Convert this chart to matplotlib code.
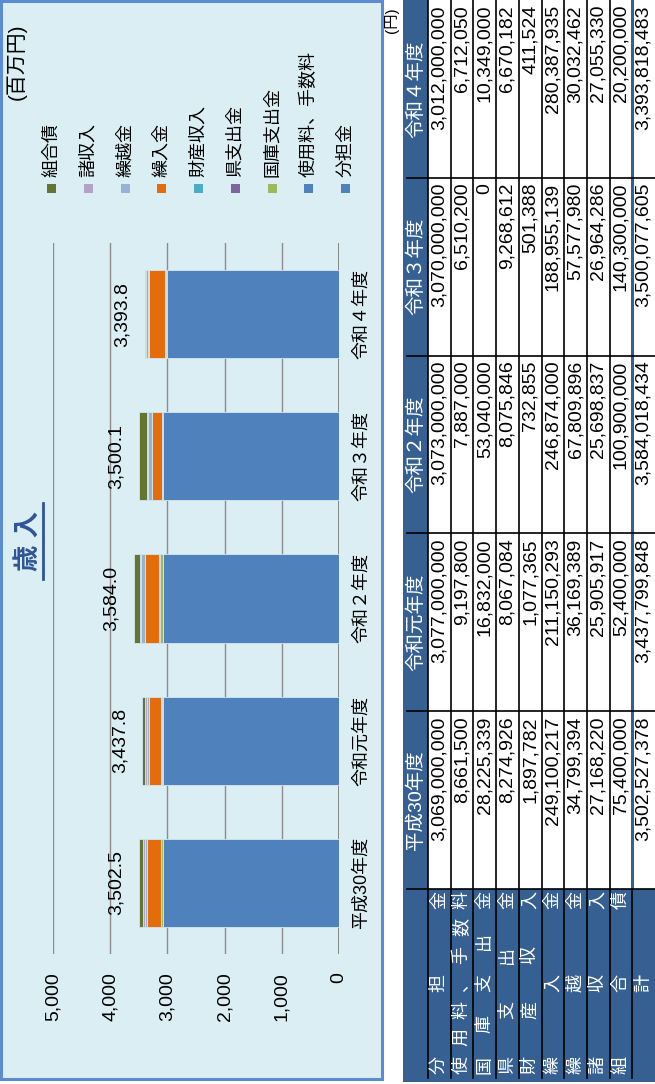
import numpy as np
import matplotlib
matplotlib.use('Agg')
import matplotlib.pyplot as plt
from matplotlib.patches import Rectangle

plt.rcParams['font.family'] = ['Liberation Sans', 'Noto Sans CJK JP']

# データ（円）
years = ['平成30年度', '令和元年度', '令和２年度', '令和３年度', '令和４年度']
items = ['分担金', '使用料、手数料', '国庫支出金', '県支出金', '財産収入',
         '繰入金', '繰越金', '諸収入', '組合債']
colors = ['#4F81BD', '#4F81BD', '#9BBB59', '#8064A2', '#4BACC6',
          '#E46C0A', '#95B3D7', '#B3A2C7', '#647531']

futankin = [3069000000, 3077000000, 3073000000, 3070000000, 3012000000]
shiyoryo = [8661500, 9197800, 7887000, 6510200, 6712050]
kokko = [28225339, 16832000, 53040000, 0, 10349000]
ken = [8274926, 8067084, 8075846, 9268612, 6670182]
zaisan = [1897782, 1077365, 732855, 501388, 411524]
kurire = [249100217, 211150293, 246874000, 188955139, 280387935]
kurikoshi = [34799394, 36169389, 67809896, 57577980, 30032462]
shoshunyu = [27168220, 25905917, 25698837, 26964286, 27055330]
kumiaisai = [75400000, 52400000, 100900000, 140300000, 20200000]

series = [futankin, shiyoryo, kokko, ken, zaisan, kurire, kurikoshi, shoshunyu, kumiaisai]
totals = np.sum(np.array(series), axis=0)

W, H = 655, 1084
fig = plt.figure(figsize=(W / 100, H / 100), dpi=100)

# 背景用（ピクセル座標）
bg = fig.add_axes([0, 0, 1, 1])
bg.set_xlim(0, W)
bg.set_ylim(H, 0)
bg.axis('off')

# グラフ枠
bg.add_patch(Rectangle((1, 1), 381, 1078, facecolor='#DBEEF4', edgecolor='#5B8BD0', lw=2.2))

# グラフ本体
ax = fig.add_axes([53 / W, 1 - 954 / H, 286 / W, 711 / H])
ax.patch.set_alpha(0)
y = np.arange(len(years))
left = np.zeros(len(years))
for vals, c in zip(series, colors):
    v = np.array(vals) / 1e6
    ax.barh(y, v, left=left, height=0.62, color=c, edgecolor='#D5E6EF', linewidth=0.6, zorder=3)
    left += v

ax.set_xlim(5000, 0)
ax.set_ylim(-0.5, 4.5)
ax.set_xticks(range(0, 5001, 1000), labels=[f'{t:,}' for t in range(0, 5001, 1000)])
ax.grid(axis='x', color='#8C8C8C', lw=1)
ax.set_axisbelow(True)
ax.axvline(0, color='#7F7F7F', lw=2, zorder=2)
for s in ax.spines.values():
    s.set_visible(False)
ax.tick_params(axis='x', length=0, pad=13, labelsize=14, labelrotation=90)
ax.yaxis.tick_right()
ax.set_yticks(y, labels=years)
ax.tick_params(axis='y', length=0, pad=10, labelsize=13, labelrotation=90)
for lab in ax.get_yticklabels():
    lab.set_va('center')

for i, t in enumerate(totals):
    ax.annotate(f'{t / 1e6:,.1f}', (t / 1e6, i), xytext=(-10, 0), textcoords='offset points',
                rotation=90, ha='right', va='center', fontsize=14)

# 凡例
for k, (name, c) in enumerate(zip(items[::-1], colors[::-1])):
    x = 51.7 + 36.75 * k
    bg.add_patch(Rectangle((x - 4.5, 183.5), 9, 9, facecolor=c, edgecolor='none'))
    bg.text(x, 177, name, rotation=90, ha='center', va='bottom', fontsize=13)

bg.text(16, 100, '(百万円)', rotation=90, ha='center', va='bottom', fontsize=15)

# タイトル
bg.text(29, 541, '歳 入', rotation=90, ha='center', va='center', fontsize=19,
        fontweight='bold', color='#2F5597')
bg.plot([43, 43], [503, 579], color='#2F5597', lw=2)

# 表
bg.text(392, 20, '(円)', rotation=90, ha='center', va='center', fontsize=11)
head_x0, row_x0, row_w = 403, 428, 22.7
col_w = 177.8
tbl_bottom = 1082
label_y0 = 889
blue = '#366092'
bg.add_patch(Rectangle((head_x0, 0), row_x0 - head_x0, label_y0, facecolor=blue, edgecolor='none'))
bg.add_patch(Rectangle((head_x0, label_y0), W - head_x0, tbl_bottom - label_y0,
                       facecolor=blue, edgecolor='none'))

row_names = items + ['計']
for k in range(len(row_names)):
    x = row_x0 + row_w * k
    if k == 9:
        bg.plot([x, x], [0, label_y0], color=blue, lw=2.2)
        bg.plot([x, x], [label_y0, 1078], color='black', lw=1.2)
    else:
        bg.plot([x, x], [0, 1078], color='black', lw=1.2)

for i in range(len(years)):
    yb = label_y0 - col_w * i
    bg.plot([407, W], [yb, yb], color='black', lw=1.2)

for i, yr in enumerate(years):
    top = label_y0 - col_w * (i + 1)
    bg.text(416, top + col_w / 2, yr, rotation=90, ha='center', va='center',
            fontsize=14, color='white')
    vals = [s[i] for s in series] + [totals[i]]
    for k, v in enumerate(vals):
        xc = row_x0 + row_w * (k + 0.5)
        bg.text(xc, top + 5, f'{v:,}', rotation=90, rotation_mode='anchor',
                ha='right', va='center', fontsize=14)

for k, name in enumerate(row_names):
    xc = row_x0 + row_w * (k + 0.5)
    if len(name) == 1:
        bg.text(xc, 983, name, rotation=90, ha='center', va='center', fontsize=13, color='white')
    else:
        for ch, yc in zip(name, np.linspace(1065, 900, len(name))):
            bg.text(xc, yc, ch, rotation=90, ha='center', va='center', fontsize=13, color='white')

fig.savefig('out.png', dpi=100)
